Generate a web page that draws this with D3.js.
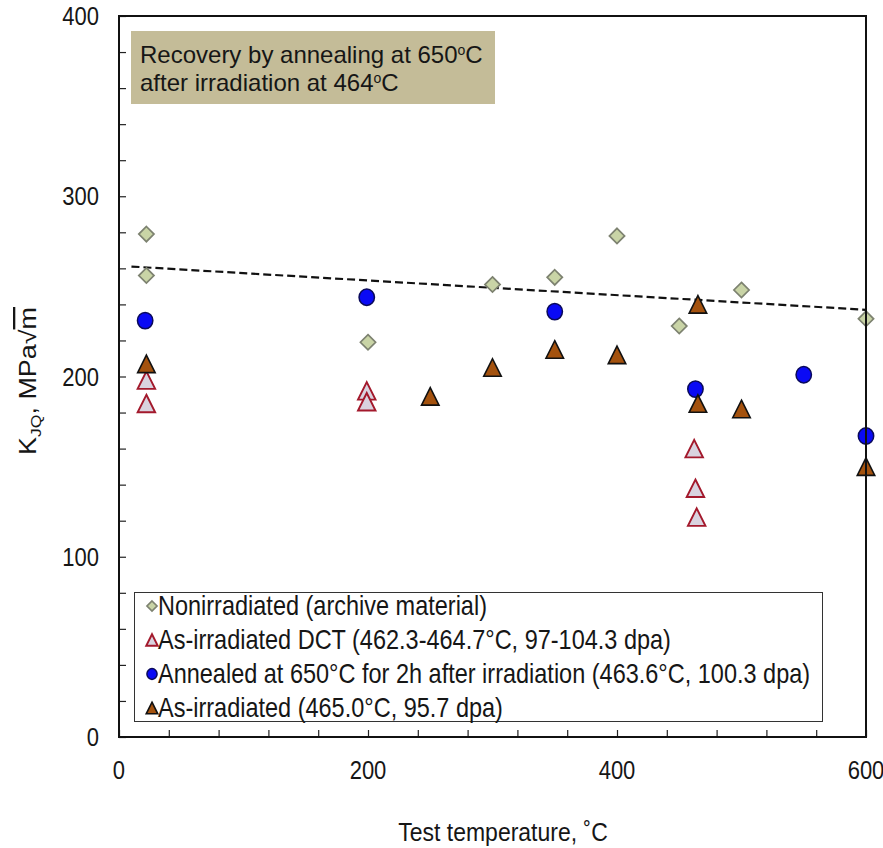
<!DOCTYPE html>
<html>
<head>
<meta charset="utf-8">
<script src="https://cdn.jsdelivr.net/npm/d3@7"></script>
<style>
  body { margin: 0; background: #fff; }
  text { font-family: "Liberation Sans", Arial, sans-serif; fill: #161616; }
  text.tall { transform-box: fill-box; transform-origin: 50% 50%; transform: scaleY(1.14); }
</style>
</head>
<body>
<svg id="chart" width="883" height="848"></svg>
<script>
// Fracture toughness K_JQ (MPa√m) against test temperature (°C)
const nonirrT = [22, 22, 200, 300, 350, 400, 450, 500, 600];
const nonirrK = [279, 256, 219, 251, 255, 278, 228, 248, 232];

const dctT = [22, 22, 199, 199, 462, 463, 464];
const dctK = [198, 185, 192, 186, 160, 138, 122];

const annealT = [21, 199, 350, 463, 550, 600];
const annealK = [231, 244, 236, 193, 201, 167];

const asirrT = [22, 250, 300, 350, 400, 465, 465, 500, 600];
const asirrK = [207, 189, 205, 215, 212, 240, 185, 182, 150];

// Linear trend of the nonirradiated data
const trendT = [10, 600];
const trendK = [261, 237];

const xTickValues = [0, 200, 400, 600];
const yTickValues = [0, 100, 200, 300, 400];

const legendLabels = [
  "Nonirradiated (archive material)",
  "As-irradiated DCT (462.3-464.7°C, 97-104.3 dpa)",
  "Annealed at 650°C for 2h after irradiation (463.6°C, 100.3 dpa)",
  "As-irradiated (465.0°C, 95.7 dpa)"
];

const svg = d3.select("#chart");
const plot = { left: 119, right: 866, top: 16, bottom: 737 };

const x = d3.scaleLinear().domain([0, 600]).range([plot.left, plot.right]);
const y = d3.scaleLinear().domain([0, 400]).range([plot.bottom, plot.top]);

// Marker shapes
const diamondPath = s => `M0,${-s}L${s},0L0,${s}L${-s},0Z`;
const trianglePath = (w, h) => `M0,${-h / 2}L${w / 2},${h / 2}L${-w / 2},${h / 2}Z`;

const styles = {
  nonirr: { fill: "#c9d4a6", stroke: "#7d8270", sw: 1.7 },
  dct:    { fill: "#d9d3df", stroke: "#a3192c", sw: 1.9 },
  anneal: { fill: "#0a0af5", stroke: "#0a0a5a", sw: 1.5 },
  asirr:  { fill: "#a4520e", stroke: "#111111", sw: 1.6 }
};

function drawMarker(g, kind, cx, cy, scale) {
  const st = styles[kind];
  let el;
  if (kind === "nonirr") {
    el = g.append("path").attr("d", diamondPath(7.6 * scale));
  } else if (kind === "anneal") {
    el = g.append("ellipse").attr("cx", 0).attr("cy", 0)
      .attr("rx", 7.7 * scale).attr("ry", 8.2 * scale);
  } else {
    el = g.append("path").attr("d", trianglePath(17.5 * scale, 17.5 * scale));
  }
  el.attr("transform", `translate(${cx},${cy})`)
    .attr("fill", st.fill).attr("stroke", st.stroke).attr("stroke-width", st.sw)
    .attr("stroke-linejoin", "miter");
}

// Axes ticks (inside the frame)
const xAxis = d3.axisBottom(x).tickValues(d3.range(0, 601, 40)).tickSize(-7).tickFormat("");
svg.append("g").attr("transform", `translate(0,${plot.bottom})`).call(xAxis)
  .call(g => g.select(".domain").remove())
  .call(g => g.selectAll("line").attr("stroke", "#222").attr("stroke-width", 1.2));

const yAxis = d3.axisLeft(y).tickValues(d3.range(0, 401, 20)).tickSize(-7).tickFormat("");
svg.append("g").attr("transform", `translate(${plot.left},0)`).call(yAxis)
  .call(g => g.select(".domain").remove())
  .call(g => g.selectAll("line").attr("stroke", "#222").attr("stroke-width", 1.2));

// Tick labels
svg.append("g").selectAll("text").data(xTickValues).join("text")
  .attr("class", "tall")
  .attr("x", d => x(d)).attr("y", 778)
  .attr("text-anchor", "middle").attr("font-size", 22)
  .text(d => d);

svg.append("g").selectAll("text").data(yTickValues).join("text")
  .attr("class", "tall")
  .attr("x", 99).attr("y", d => y(d) + 8)
  .attr("text-anchor", "end").attr("font-size", 22)
  .text(d => d);

// Axis titles
svg.append("text").attr("class", "tall").attr("x", 503).attr("y", 840).attr("text-anchor", "middle")
  .attr("font-size", 23).text("Test temperature, ˚C");

const yt = svg.append("text").attr("transform", "translate(36,381) rotate(-90)")
  .attr("text-anchor", "middle").attr("font-size", 23).attr("textLength", 148)
  .attr("lengthAdjust", "spacingAndGlyphs");
yt.append("tspan").text("K");
yt.append("tspan").attr("font-size", 15).attr("dy", 5).text("JQ");
yt.append("tspan").attr("dy", -5).text(", MPa√");
yt.append("tspan").attr("text-decoration", "overline").text("m");

// Annotation box
svg.append("rect").attr("x", 131).attr("y", 31).attr("width", 364).attr("height", 73)
  .attr("fill", "#c4bc98");
const ann1 = svg.append("text").attr("x", 140).attr("y", 63).attr("font-size", 24);
ann1.append("tspan").text("Recovery by annealing at 650");
ann1.append("tspan").attr("font-size", 14).attr("dy", -8).text("o");
ann1.append("tspan").attr("dy", 8).text("C");
const ann2 = svg.append("text").attr("x", 140).attr("y", 91).attr("font-size", 24);
ann2.append("tspan").text("after irradiation at 464");
ann2.append("tspan").attr("font-size", 14).attr("dy", -8).text("o");
ann2.append("tspan").attr("dy", 8).text("C");

// Trend line
svg.append("path")
  .datum(d3.zip(trendT, trendK))
  .attr("d", d3.line().x(d => x(d[0])).y(d => y(d[1])))
  .attr("fill", "none").attr("stroke", "#111").attr("stroke-width", 2.2)
  .attr("stroke-dasharray", "8,4");

// Data markers
const marks = svg.append("g");
const series = [
  ["nonirr", nonirrT, nonirrK],
  ["dct", dctT, dctK],
  ["anneal", annealT, annealK],
  ["asirr", asirrT, asirrK]
];
series.forEach(([kind, ts, ks]) => {
  ts.forEach((t, i) => drawMarker(marks, kind, x(t), y(ks[i]), 1));
});

// Frame
svg.append("rect").attr("x", plot.left).attr("y", plot.top)
  .attr("width", plot.right - plot.left).attr("height", plot.bottom - plot.top)
  .attr("fill", "none").attr("stroke", "#111").attr("stroke-width", 2);

// Legend
const lg = svg.append("g");
lg.append("rect").attr("x", 134.5).attr("y", 592.5).attr("width", 688).attr("height", 129)
  .attr("fill", "#fff").attr("stroke", "#333").attr("stroke-width", 1);
const legendKinds = ["nonirr", "dct", "anneal", "asirr"];
legendKinds.forEach((k, i) => {
  const cy = 606 + i * 34;
  drawMarker(lg, k, 152, cy, 0.66);
  lg.append("text").attr("class", "tall").attr("x", 158).attr("y", cy + 8).attr("font-size", 23.5)
    .text(legendLabels[i]);
});
</script>
</body>
</html>
